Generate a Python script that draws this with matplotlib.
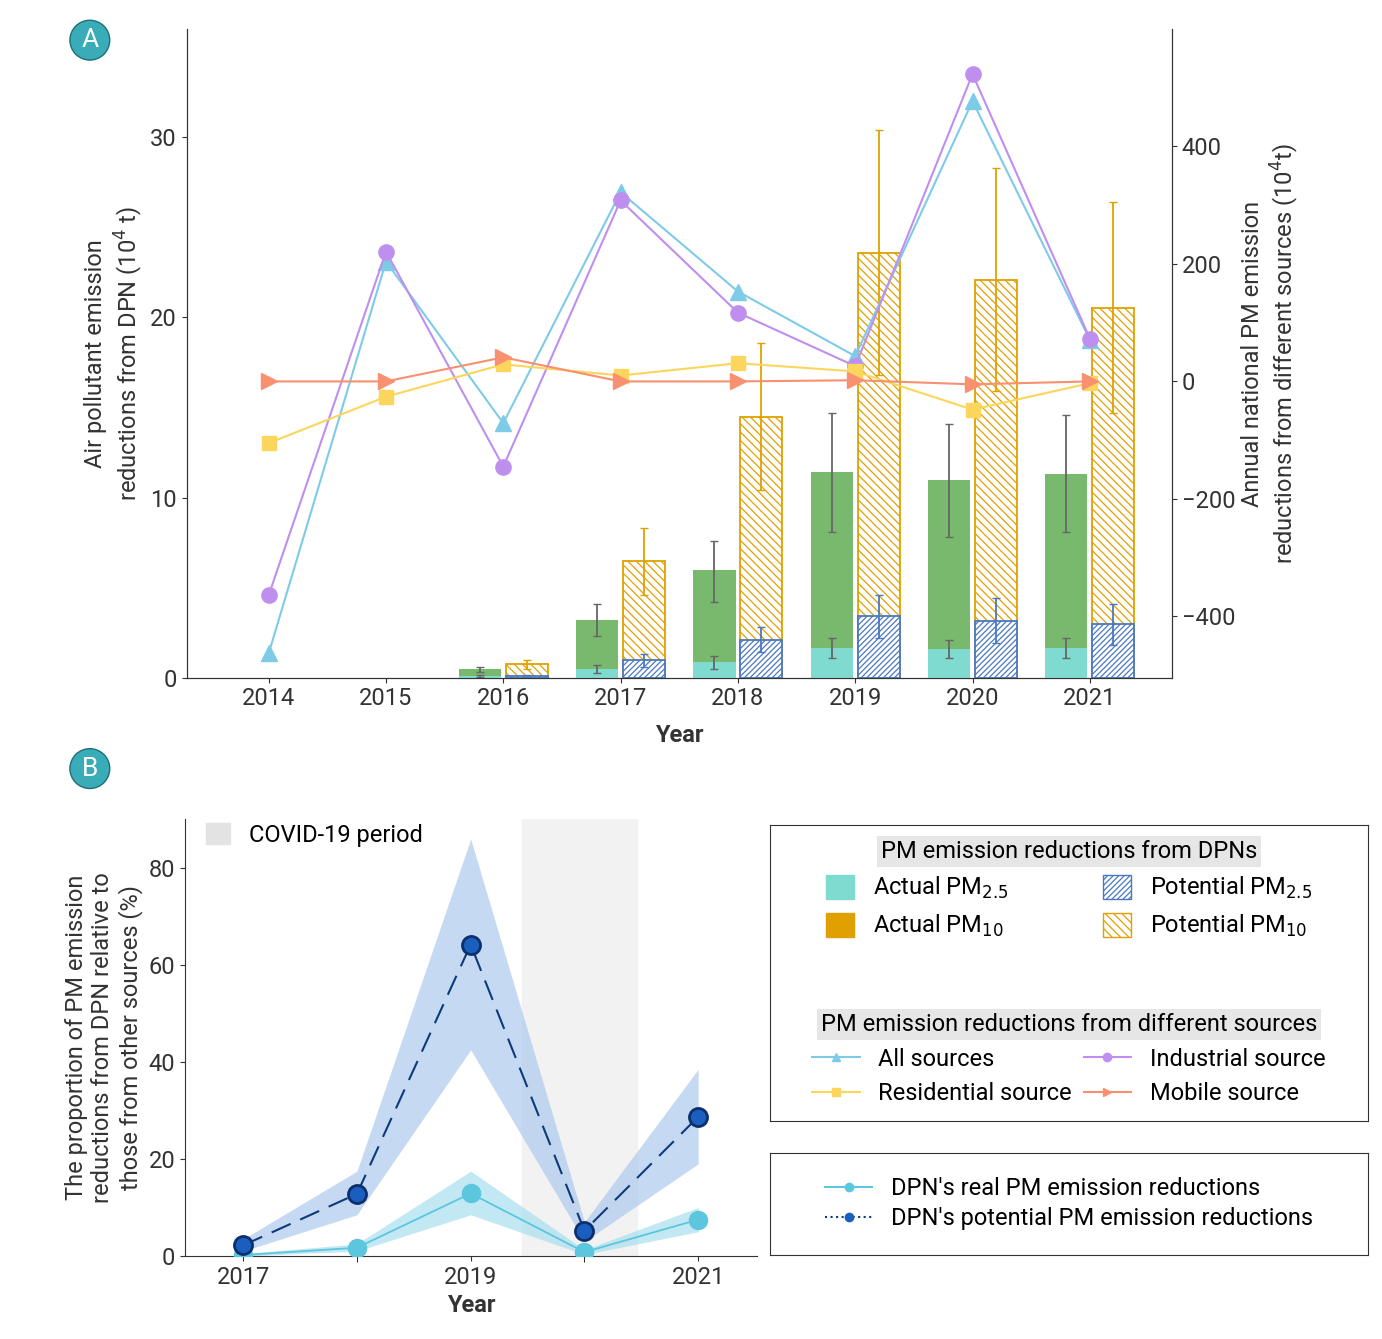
import matplotlib
matplotlib.use("Agg")
import matplotlib.pyplot as plt
from matplotlib.patches import Patch, Rectangle
from matplotlib.lines import Line2D
import numpy as np

plt.rcParams['font.family'] = ['Roboto', 'DejaVu Sans']
plt.rcParams['font.size'] = 17
plt.rcParams['hatch.linewidth'] = 0.9
plt.rcParams['axes.edgecolor'] = '#333333'

# ---- panel A data ----
years = [2014, 2015, 2016, 2017, 2018, 2019, 2020, 2021]
bar_years = [2016, 2017, 2018, 2019, 2020, 2021]
actual_pm10 = [0.45, 3.2, 5.95, 11.4, 10.95, 11.3]
actual_pm10_lo = [0.3, 2.3, 4.2, 8.1, 7.8, 8.1]
actual_pm10_hi = [0.6, 4.1, 7.6, 14.7, 14.1, 14.6]
actual_pm25 = [0.08, 0.45, 0.85, 1.65, 1.6, 1.65]
actual_pm25_lo = [0.05, 0.25, 0.5, 1.1, 1.1, 1.1]
actual_pm25_hi = [0.12, 0.7, 1.2, 2.2, 2.1, 2.2]
potential_pm10 = [0.75, 6.5, 14.5, 23.6, 22.1, 20.5]
potential_pm10_lo = [0.5, 4.6, 10.4, 16.8, 15.9, 14.7]
potential_pm10_hi = [1.0, 8.3, 18.6, 30.4, 28.3, 26.4]
potential_pm25 = [0.1, 0.95, 2.1, 3.4, 3.15, 2.95]
potential_pm25_lo = [0.05, 0.6, 1.4, 2.2, 1.9, 1.8]
potential_pm25_hi = [0.15, 1.3, 2.8, 4.6, 4.4, 4.1]

all_sources = [-463, 204, -71, 322, 153, 43, 477, 71]
industrial = [-364, 221, -145, 308, 117, 26, 523, 73]
residential = [-105, -26, 29, 10, 31, 17, -48, -3]
mobile = [0, 0, 41, 0, 0, 2, -5, 0]

# ---- panel B data ----
b_years = [2017, 2018, 2019, 2020, 2021]
potential_prop = [2.2, 12.8, 64.2, 5.2, 28.7]
potential_prop_lo = [1.0, 8.5, 42.5, 3.0, 19.0]
potential_prop_hi = [3.5, 17.5, 86.0, 7.0, 38.5]
real_prop = [0.2, 1.7, 12.9, 0.8, 7.5]
real_prop_lo = [0.0, 1.0, 8.5, 0.3, 5.0]
real_prop_hi = [0.5, 2.5, 17.5, 1.3, 10.0]

c_green = '#78b96e'
c_teal = '#7fdbd0'
c_orange = '#e0a000'
c_blue = '#4a78c0'

fig = plt.figure(figsize=(13.82, 13.39), dpi=100)

# ================= panel A =================
ax = fig.add_axes([0.135, 0.494, 0.713, 0.484])
x = np.array(bar_years)
w = 0.36
off = 0.2
ax.bar(x - off, actual_pm10, w, color=c_green, zorder=2)
ax.bar(x - off, actual_pm25, w, color=c_teal, zorder=3)
ax.errorbar(x - off, actual_pm10,
            yerr=[np.subtract(actual_pm10, actual_pm10_lo), np.subtract(actual_pm10_hi, actual_pm10)],
            fmt='none', ecolor='#666666', capsize=3, lw=1.3, zorder=4)
ax.errorbar(x - off, actual_pm25,
            yerr=[np.subtract(actual_pm25, actual_pm25_lo), np.subtract(actual_pm25_hi, actual_pm25)],
            fmt='none', ecolor='#666666', capsize=3, lw=1.3, zorder=4)
ax.bar(x + off, potential_pm10, w, facecolor='white', edgecolor=c_orange, hatch='\\\\\\\\', lw=1.3, zorder=2)
ax.bar(x + off, potential_pm25, w, facecolor='white', edgecolor=c_blue, hatch='//////', lw=1.3, zorder=3)
ax.errorbar(x + off, potential_pm10,
            yerr=[np.subtract(potential_pm10, potential_pm10_lo), np.subtract(potential_pm10_hi, potential_pm10)],
            fmt='none', ecolor=c_orange, capsize=3, lw=1.3, zorder=4)
ax.errorbar(x + off, potential_pm25,
            yerr=[np.subtract(potential_pm25, potential_pm25_lo), np.subtract(potential_pm25_hi, potential_pm25)],
            fmt='none', ecolor=c_blue, capsize=3, lw=1.3, zorder=4)
ax.set_ylim(0, 36)
ax.set_xlim(2013.3, 2021.7)
ax.set_xticks(years)
ax.set_yticks([0, 10, 20, 30])
ax.set_xlabel('Year', fontweight='bold', color='#333333', labelpad=10)
ax.set_ylabel('Air pollutant emission\nreductions from DPN (10$^4$ t)', color='#333333')
ax.spines['top'].set_visible(False)
ax.tick_params(colors='#333333', labelsize=17)

ax2 = ax.twinx()
ax2.plot(years, all_sources, '-^', color='#7ecbe8', ms=11, lw=1.5)
ax2.plot(years, industrial, '-o', color='#bf8ff0', ms=11, lw=1.5)
ax2.plot(years, residential, '-s', color='#fcd65c', ms=10, lw=1.5)
ax2.plot(years, mobile, '->', color='#f99070', ms=11, lw=1.5)
ax2.set_ylim(-504, 599)
ax2.set_yticks([-400, -200, 0, 200, 400])
ax2.set_yticklabels(['\u2212400', '\u2212200', '0', '200', '400'])
ax2.set_ylabel('Annual national PM emission\nreductions from different sources (10$^4$t)', color='#333333')
ax2.spines['top'].set_visible(False)
ax2.tick_params(colors='#333333', labelsize=17)

# ================= panel B =================
bx = fig.add_axes([0.134, 0.062, 0.414, 0.326])
bx.axvspan(2019.45, 2020.46, color='#f2f2f2', zorder=0)
bx.fill_between(b_years, potential_prop_lo, potential_prop_hi, color='#a7c6ec', alpha=0.65, lw=0, zorder=1)
bx.fill_between(b_years, real_prop_lo, real_prop_hi, color='#a9e0ef', alpha=0.7, lw=0, zorder=1)
bx.plot(b_years, real_prop, '-o', color='#5bc6dd', ms=13, lw=1.3, zorder=3)
bx.plot(b_years, potential_prop, '--o', color='#0d3a7a', mfc='#1a5fbf', mec='#0d2f6b', mew=2,
        ms=13, lw=1.5, dashes=(10, 5), zorder=4)
bx.set_xlim(2016.49, 2021.52)
bx.set_ylim(0, 90)
bx.set_xticks([2017, 2019, 2021])
bx.set_xticks([2018, 2020], minor=True)
bx.tick_params(which='minor', length=4)
bx.set_yticks([0, 20, 40, 60, 80])
bx.spines['top'].set_visible(False)
bx.spines['right'].set_visible(False)
bx.set_xlabel('Year', fontweight='bold', color='#333333')
bx.set_ylabel('The proportion of PM emission\nreductions from DPN relative to\nthose from other sources (%)',
              color='#333333')
bx.tick_params(colors='#333333', labelsize=17)
cl = bx.legend([Patch(color='#e3e3e3')], ['COVID-19 period'], loc='upper left',
               frameon=False, handlelength=1, handleheight=1, bbox_to_anchor=(0.0, 1.04))

# ================= legend boxes =================
lx = fig.add_axes([0.557, 0.163, 0.433, 0.221])
lx.set_xticks([]); lx.set_yticks([])
for s in lx.spines.values():
    s.set_color('#333333')
h1 = [Patch(color=c_teal), Patch(color=c_orange),
      Patch(facecolor='white', edgecolor=c_blue, hatch='//////'),
      Patch(facecolor='white', edgecolor=c_orange, hatch='\\\\\\\\')]
l1 = lx.legend(h1, ['Actual PM$_{2.5}$', 'Actual PM$_{10}$', 'Potential PM$_{2.5}$', 'Potential PM$_{10}$'],
               ncol=2, loc='upper center', frameon=False, title='PM emission reductions from DPNs',
               title_fontsize=17, fontsize=17, handlelength=1.2, handleheight=1.2, columnspacing=4,
               bbox_to_anchor=(0.5, 1.02))
l1.get_title().set_bbox(dict(facecolor='#e6e6e6', edgecolor='none', pad=3))
lx.add_artist(l1)
h2 = [Line2D([], [], color='#7ecbe8', marker='^'), Line2D([], [], color='#fcd65c', marker='s'),
      Line2D([], [], color='#bf8ff0', marker='o'), Line2D([], [], color='#f99070', marker='>')]
l2 = lx.legend(h2, ['All sources', 'Residential source', 'Industrial source', 'Mobile source'],
               ncol=2, loc='lower center', frameon=False, title='PM emission reductions from different sources',
               title_fontsize=17, fontsize=17, handlelength=2, columnspacing=0.5,
               bbox_to_anchor=(0.5, -0.02))
l2.get_title().set_bbox(dict(facecolor='#e6e6e6', edgecolor='none', pad=3))

lx2 = fig.add_axes([0.557, 0.063, 0.433, 0.076])
lx2.set_xticks([]); lx2.set_yticks([])
for s in lx2.spines.values():
    s.set_color('#333333')
h3 = [Line2D([], [], color='#5bc6dd', marker='o'),
      Line2D([], [], color='#0d3a7a', ls=':', marker='o', mfc='#1a5fbf', mec='#1a5fbf')]
lx2.legend(h3, ["DPN's real PM emission reductions", "DPN's potential PM emission reductions"],
           loc='center', frameon=False, fontsize=17, handlelength=2, labelspacing=0.3)

# panel letters
for lbl, yy in [('A', 0.970), ('B', 0.426)]:
    fig.text(0.065, yy, lbl, ha='center', va='center', color='white', fontsize=19,
             bbox=dict(boxstyle='circle,pad=0.3', facecolor='#3aacb8', edgecolor='#1d6f78'))

fig.savefig('out.png', dpi=100)
